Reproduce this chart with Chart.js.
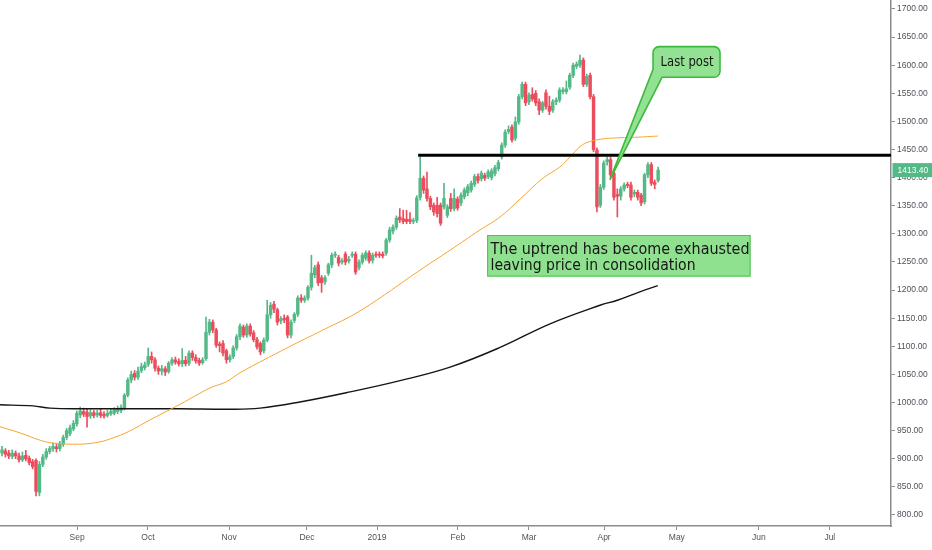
<!DOCTYPE html>
<html>
<head>
<meta charset="utf-8">
<script src="https://cdn.jsdelivr.net/npm/chart.js@4.4.1/dist/chart.umd.min.js"></script>
<style>
  html, body { margin: 0; padding: 0; background: #fff; }
  #wrap { width: 932px; height: 550px; }
</style>
</head>
<body>
<div id="wrap"><canvas id="chart" width="932" height="550"></canvas></div>
<script>
// daily candles (index = trading day)
const opens = [
  910, 914, 910, 904, 910, 905, 898, 906, 901, 895, 897, 840,
  890, 903, 913, 918, 921, 918, 926, 938, 945, 953, 962, 978,
  984, 983, 976, 982, 978, 982, 979, 977, 980, 981, 984, 986,
  990, 1013, 1040, 1052, 1045,
  1057, 1062, 1068, 1082, 1076, 1061, 1056, 1060, 1055, 1070, 1076, 1073, 1069, 1075, 1070,
  1088, 1080, 1075, 1071, 1078, 1125, 1143, 1129, 1104, 1105, 1092, 1076, 1082, 1097,
  1117, 1134, 1120, 1136, 1124, 1112, 1105, 1092, 1111, 1156, 1175, 1165, 1145, 1150, 1152,
  1120, 1146, 1157, 1186, 1182, 1186, 1205, 1227, 1245, 1222, 1215, 1230, 1245, 1262, 1258,
  1250, 1264, 1252, 1262, 1264,
  1240, 1250, 1257, 1266, 1253, 1264, 1264, 1264, 1266, 1289, 1305, 1312, 1330, 1327, 1326,
  1326, 1322, 1324, 1365, 1399, 1380, 1363, 1351, 1351, 1351, 1348, 1333, 1363, 1345, 1362,
  1355, 1366, 1373, 1378, 1388, 1402,
  1398, 1404, 1402, 1400, 1407, 1416, 1437, 1458, 1482, 1490, 1470, 1499, 1544, 1566, 1535,
  1548, 1550, 1535, 1520, 1551, 1527, 1520, 1535, 1538, 1553, 1553, 1561, 1582, 1598, 1600,
  1609, 1566, 1582, 1544, 1449, 1351, 1383, 1428, 1432, 1408, 1370, 1367, 1380, 1388, 1387,
  1371, 1374, 1369, 1357, 1405, 1423, 1392, 1395
];
const highs = [
  922, 918, 915, 916, 914, 910, 912, 915, 905, 899, 900, 895,
  908, 918, 922, 928, 926, 931, 942, 954, 960, 968, 985, 992,
  990, 988, 987, 986, 986, 988, 984, 986, 989, 991, 994, 996,
  1016, 1044, 1056, 1057, 1063,
  1070, 1072, 1097, 1090, 1080, 1065, 1066, 1064, 1073, 1080, 1081, 1078, 1096, 1082, 1092,
  1092, 1085, 1079, 1080, 1152, 1148, 1147, 1132, 1108, 1110, 1095, 1085, 1101, 1121,
  1140, 1138, 1140, 1140, 1128, 1116, 1108, 1115, 1182, 1178, 1180, 1168, 1153, 1156, 1155,
  1147, 1160, 1190, 1192, 1190, 1208, 1262, 1244, 1250, 1226, 1226, 1248, 1266, 1268, 1262,
  1256, 1268, 1260, 1268, 1268,
  1254, 1266, 1270, 1270, 1266, 1268, 1268, 1268, 1292, 1312, 1316, 1332, 1345, 1342, 1342,
  1338, 1328, 1368, 1437, 1403, 1410, 1367, 1355, 1365, 1355, 1390, 1352, 1372, 1380, 1366,
  1373, 1382, 1388, 1394, 1406, 1407,
  1412, 1408, 1414, 1416, 1422, 1431, 1462, 1485, 1492, 1494, 1508, 1548, 1570, 1570, 1551,
  1560, 1555, 1540, 1536, 1556, 1545, 1539, 1542, 1560, 1560, 1572, 1586, 1604, 1606, 1618,
  1613, 1584, 1586, 1548, 1453, 1388, 1430, 1436, 1436, 1412, 1380, 1384, 1391, 1392, 1392,
  1378, 1378, 1372, 1408, 1427, 1427, 1396, 1419
];
const lows = [
  905, 903, 900, 900, 900, 894, 895, 896, 889, 882, 834, 834,
  886, 899, 909, 913, 912, 914, 922, 934, 941, 950, 958, 973,
  975, 956, 972, 973, 974, 973, 972, 974, 977, 978, 980, 982,
  987, 1010, 1035, 1040, 1041,
  1053, 1058, 1064, 1070, 1056, 1050, 1049, 1048, 1052, 1066, 1068, 1065, 1064, 1065, 1066,
  1075, 1070, 1066, 1068, 1075, 1120, 1124, 1098, 1090, 1083, 1070, 1072, 1078, 1093,
  1112, 1116, 1116, 1118, 1108, 1095, 1085, 1088, 1108, 1150, 1160, 1138, 1140, 1142, 1115,
  1115, 1142, 1153, 1178, 1178, 1182, 1200, 1222, 1208, 1196, 1210, 1226, 1240, 1258, 1243,
  1246, 1245, 1248, 1258, 1228,
  1236, 1246, 1253, 1248, 1248, 1258, 1258, 1257, 1262, 1285, 1300, 1308, 1320, 1318, 1318,
  1318, 1318, 1320, 1360, 1372, 1358, 1343, 1333, 1330, 1315, 1344, 1329, 1340, 1341, 1342,
  1350, 1362, 1368, 1374, 1384, 1390,
  1394, 1395, 1398, 1396, 1403, 1412, 1433, 1454, 1478, 1463, 1466, 1495, 1540, 1528, 1530,
  1536, 1528, 1512, 1516, 1522, 1512, 1516, 1530, 1534, 1549, 1549, 1557, 1578, 1594, 1596,
  1562, 1562, 1540, 1446, 1339, 1347, 1379, 1422, 1400, 1360, 1330, 1360, 1376, 1382, 1360,
  1366, 1360, 1350, 1353, 1400, 1386, 1380, 1392
];
const closes = [
  916, 908, 905, 910, 905, 898, 905, 900, 893, 886, 842, 890,
  903, 913, 918, 922, 918, 926, 938, 950, 955, 963, 981, 985,
  979, 975, 982, 977, 981, 977, 976, 981, 984, 987, 988, 991,
  1013, 1040, 1050, 1045, 1056,
  1064, 1067, 1082, 1076, 1061, 1056, 1060, 1054, 1070, 1076, 1072, 1069, 1075, 1069, 1088,
  1080, 1074, 1070, 1076, 1125, 1143, 1129, 1102, 1101, 1088, 1076, 1081, 1097, 1117,
  1136, 1120, 1136, 1122, 1112, 1099, 1090, 1111, 1156, 1173, 1166, 1143, 1149, 1147, 1120,
  1143, 1157, 1186, 1182, 1186, 1205, 1230, 1240, 1213, 1213, 1222, 1245, 1262, 1264, 1248,
  1252, 1250, 1255, 1264, 1232,
  1250, 1262, 1266, 1252, 1262, 1262, 1262, 1261, 1289, 1307, 1312, 1328, 1325, 1322, 1322,
  1322, 1324, 1364, 1399, 1378, 1363, 1348, 1339, 1336, 1319, 1363, 1348, 1345, 1363, 1346,
  1369, 1378, 1384, 1390, 1402, 1395,
  1408, 1399, 1410, 1412, 1418, 1427, 1458, 1481, 1486, 1467, 1499, 1544, 1566, 1533, 1547,
  1540, 1533, 1520, 1533, 1527, 1518, 1535, 1538, 1556, 1556, 1558, 1582, 1600, 1602, 1609,
  1566, 1580, 1544, 1450, 1348, 1383, 1426, 1432, 1405, 1365, 1367, 1380, 1387, 1386, 1365,
  1374, 1365, 1355, 1405, 1423, 1390, 1388, 1413.4
];

// moving averages (bar index -> value)
const ma50Idx = [-0.6, 5.3, 11.2, 15, 22.9, 28.8, 32.6, 37.1, 43.5, 52.4, 61.2, 66, 70, 83.8, 94.4, 105.3, 123.8, 131.8, 140.6, 146.5, 152.4, 159.1, 164.1, 167.1, 170, 172.3, 176.8, 181.8, 186.8, 192.9];
const ma50Val = [957, 946, 933, 928, 926, 930, 937, 948, 969, 997, 1026, 1037, 1053, 1097, 1129, 1163, 1239, 1271, 1307, 1330, 1362, 1399, 1419, 1437, 1455, 1463, 1469, 1471, 1472, 1474];
const ma200Idx = [-0.6, 9.1, 14.1, 23.8, 37.6, 52.4, 67.1, 75.9, 87.6, 102.4, 117.1, 131.8, 146.5, 161.2, 175.9, 181.0, 187.6, 192.9];
const ma200Val = [996, 994, 990, 989, 989, 989, 988, 990, 1001, 1019, 1039, 1063, 1098, 1140, 1173, 1182, 1197, 1208];

// resistance level
const levelPrice = 1440;
const levelStartIdx = 122.4;

// axes
const monthTickIdx = [22.1, 42.9, 66.8, 89.7, 110.3, 134.1, 155.0, 177.1, 198.5, 222.6, 243.5];
const monthLabels = ['Sep', 'Oct', 'Nov', 'Dec', '2019', 'Feb', 'Mar', 'Apr', 'May', 'Jun', 'Jul'];
const priceTicks = [800, 850, 900, 950, 1000, 1050, 1100, 1150, 1200, 1250, 1300, 1350, 1400, 1450, 1500, 1550, 1600, 1650, 1700];

const X_MIN = -0.6, X_MAX = 261.5;
const UP = '#53b987', DOWN = '#eb4d5c';
const AXIS_FONT = { family: 'Liberation Sans', size: 8.5 };

function candleColor(ctx) {
  const i = ctx.dataIndex;
  return closes[i] >= opens[i] ? UP : DOWN;
}

// text drawn squeezed to a target width, like the original condensed look
function fitText(ctx, text, x, y, font, targetW) {
  ctx.save();
  ctx.font = font;
  const w = ctx.measureText(text).width;
  ctx.translate(x, y);
  ctx.scale(targetW / w, 1);
  ctx.fillText(text, 0, 0);
  ctx.restore();
}

const overlay = {
  id: 'overlay',
  afterDatasetsDraw(chart) {
    const { ctx } = chart;
    const x = chart.scales.x, y = chart.scales.y;

    // consolidation note
    const bx0 = x.getPixelForValue(142.7), bx1 = x.getPixelForValue(220.2);
    const by0 = y.getPixelForValue(1298), by1 = y.getPixelForValue(1224);
    ctx.save();
    ctx.fillStyle = '#8fe08f';
    ctx.strokeStyle = '#4cc34c';
    ctx.lineWidth = 1;
    ctx.fillRect(bx0, by0, bx1 - bx0, by1 - by0);
    ctx.strokeRect(bx0 + 0.5, by0 + 0.5, bx1 - bx0 - 1, by1 - by0 - 1);
    ctx.fillStyle = '#151515';
    ctx.textBaseline = 'alphabetic';
    const tx = x.getPixelForValue(143.7);
    fitText(ctx, 'The uptrend has become exhausted', tx, y.getPixelForValue(1264), '16px "DejaVu Sans"', 259);
    fitText(ctx, 'leaving price in consolidation', tx, y.getPixelForValue(1236), '16px "DejaVu Sans"', 205);
    ctx.restore();

    // "Last post" callout with pointer
    const L = x.getPixelForValue(191.5), R = x.getPixelForValue(211.2);
    const T = y.getPixelForValue(1633), B = y.getPixelForValue(1578.5);
    const tipX = x.getPixelForValue(178.8), tipY = y.getPixelForValue(1396);
    const r = 6;
    ctx.save();
    ctx.beginPath();
    ctx.moveTo(L + r, T);
    ctx.lineTo(R - r, T);
    ctx.arcTo(R, T, R, T + r, r);
    ctx.lineTo(R, B - r);
    ctx.arcTo(R, B, R - r, B, r);
    ctx.lineTo(L + 9, B);
    ctx.lineTo(tipX, tipY);
    ctx.lineTo(L, B - 8);
    ctx.lineTo(L, T + r);
    ctx.arcTo(L, T, L + r, T, r);
    ctx.closePath();
    ctx.fillStyle = '#93e293';
    ctx.fill();
    ctx.strokeStyle = '#3dba3d';
    ctx.lineWidth = 1.6;
    ctx.stroke();
    ctx.fillStyle = '#151515';
    fitText(ctx, 'Last post', L + 7.5, T + 19.5, '13.5px "DejaVu Sans"', 53);
    ctx.restore();
  },
  afterDraw(chart) {
    // last price tag on the price axis
    const { ctx } = chart;
    const y = chart.scales.y;
    const last = closes[closes.length - 1];
    const py = y.getPixelForValue(last);
    const left = chart.chartArea.right + 1.5;
    ctx.save();
    ctx.fillStyle = UP;
    ctx.fillRect(left, py - 7, 932 - left, 14);
    ctx.fillStyle = '#ffffff';
    ctx.font = '8.5px "Liberation Sans"';
    ctx.textBaseline = 'middle';
    ctx.fillText(last.toFixed(2), left + 5, py + 0.5);
    ctx.restore();
  }
};

const wickData = lows.map((l, i) => ({ x: i, y: [l, highs[i]] }));
const bodyData = opens.map((o, i) => ({ x: i, y: [o, closes[i]] }));

new Chart(document.getElementById('chart'), {
  type: 'bar',
  data: {
    datasets: [
      {
        type: 'line',
        data: [{ x: levelStartIdx, y: levelPrice }, { x: X_MAX, y: levelPrice }],
        borderColor: '#000000',
        borderWidth: 3,
        pointRadius: 0,
        order: 0
      },
      {
        type: 'line',
        data: ma50Idx.map((v, i) => ({ x: v, y: ma50Val[i] })),
        borderColor: '#f7a533',
        borderWidth: 1,
        pointRadius: 0,
        tension: 0.4,
        order: 1
      },
      {
        type: 'line',
        data: ma200Idx.map((v, i) => ({ x: v, y: ma200Val[i] })),
        borderColor: '#151515',
        borderWidth: 1.4,
        pointRadius: 0,
        tension: 0.4,
        order: 1
      },
      {
        data: wickData,
        backgroundColor: candleColor,
        barThickness: 1,
        grouped: false,
        order: 3
      },
      {
        data: bodyData,
        backgroundColor: candleColor,
        barThickness: 2.8,
        minBarLength: 1,
        grouped: false,
        order: 2
      }
    ]
  },
  options: {
    responsive: false,
    animation: false,
    layout: { padding: 0 },
    plugins: {
      legend: { display: false },
      tooltip: { enabled: false }
    },
    scales: {
      x: {
        type: 'linear',
        min: X_MIN,
        max: X_MAX,
        offset: false,
        afterBuildTicks: s => { s.ticks = monthTickIdx.map(v => ({ value: v })); },
        afterFit: s => { s.height = 24; s.paddingLeft = 0; s.paddingRight = 0; },
        ticks: {
          callback: (v, i) => monthLabels[i],
          font: AXIS_FONT,
          color: '#4f525b',
          maxRotation: 0,
          autoSkip: false,
          padding: 3
        },
        grid: { offset: false, drawOnChartArea: false, drawTicks: true, tickLength: 4, color: '#8c8c8c' },
        border: { color: '#8c8c8c', width: 1.5 }
      },
      y: {
        position: 'right',
        min: 780.4,
        max: 1716,
        afterBuildTicks: s => { s.ticks = priceTicks.map(v => ({ value: v })); },
        afterFit: s => { s.width = 41; s.paddingTop = 0; s.paddingBottom = 0; },
        ticks: {
          callback: v => v.toFixed(2),
          font: AXIS_FONT,
          color: '#4f525b',
          padding: 2
        },
        grid: { drawOnChartArea: false, drawTicks: true, tickLength: 4, color: '#8c8c8c' },
        border: { color: '#8c8c8c', width: 1.5 }
      }
    }
  },
  plugins: [overlay]
});
</script>
</body>
</html>
